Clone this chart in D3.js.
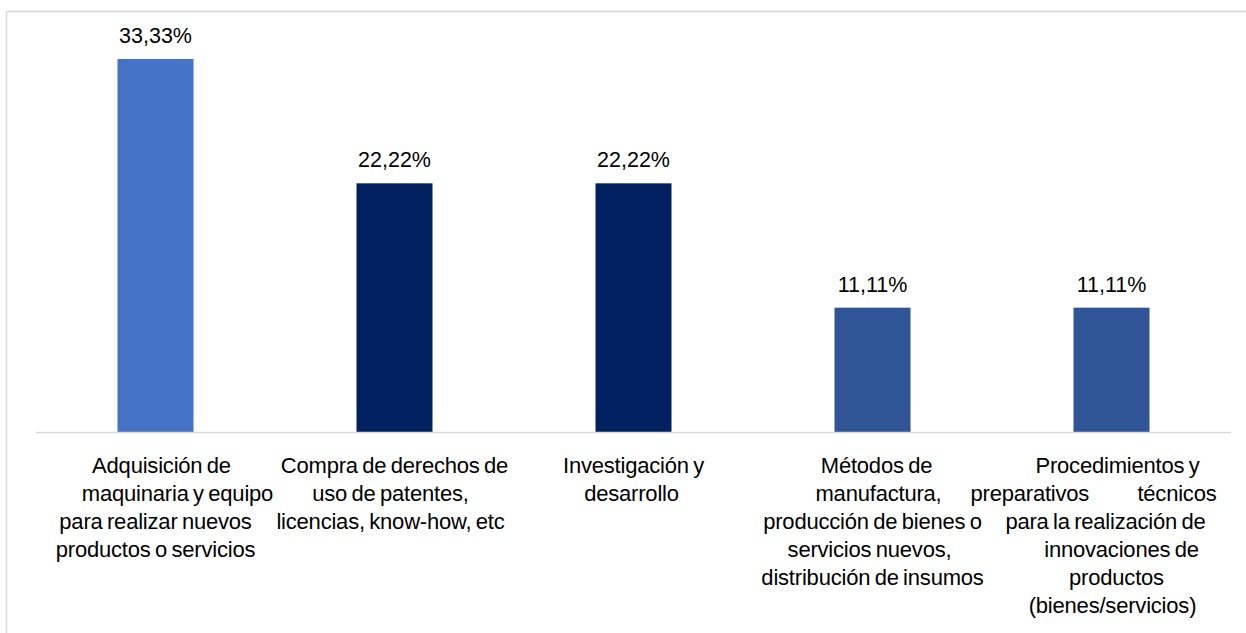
<!DOCTYPE html>
<html>
<head>
<meta charset="utf-8">
<script src="https://cdn.jsdelivr.net/npm/d3@7"></script>
<style>
  html, body { margin: 0; padding: 0; background: #fff; }
  svg { display: block; }
  text { font-family: "Liberation Sans", Arial, sans-serif; fill: #000; }
</style>
</head>
<body>
<svg id="chart" width="1246" height="633"></svg>
<script>
// Categories, each as the lines of its wrapped axis label
const categories = [
  "Adquisición de maquinaria y equipo para realizar nuevos productos o servicios",
  "Compra de derechos de uso de patentes, licencias, know-how, etc",
  "Investigación y desarrollo",
  "Métodos de manufactura, producción de bienes o servicios nuevos, distribución de insumos",
  "Procedimientos y preparativos técnicos para la realización de innovaciones de productos (bienes/servicios)"
];
const labelLines = [
  ["Adquisición de", "maquinaria y equipo", "para realizar nuevos", "productos o servicios"],
  ["Compra de derechos de", "uso de patentes,", "licencias, know-how, etc"],
  ["Investigación y", "desarrollo"],
  ["Métodos de", "manufactura,", "producción de bienes o", "servicios nuevos,", "distribución de insumos"],
  ["Procedimientos y", "preparativos técnicos", "para la realización de", "innovaciones de", "productos", "(bienes/servicios)"]
];
const values = [33.33, 22.22, 22.22, 11.11, 11.11];
const valueLabels = ["33,33%", "22,22%", "22,22%", "11,11%", "11,11%"];
const barColors = ["#4472C4", "#002060", "#002060", "#2F5597", "#2F5597"];

// Horizontal nudges of individual label lines (text-box wrapping quirks)
const lineShift = [
  [6, 22, 0, 0],
  [0, -4, -4],
  [0, -2],
  [4, 6, 0, -3, 0],
  [6, 0, -6, 10, 5, 1]
];

const svg = d3.select("#chart");

// Chart area frame
svg.append("rect")
  .attr("x", 6.5).attr("y", 11.5)
  .attr("width", 1260).attr("height", 640)
  .attr("fill", "none")
  .attr("stroke", "#D9D9D9")
  .attr("stroke-width", 1.5);

const x = d3.scaleBand()
  .domain(categories)
  .range([36, 1231])
  .paddingInner(0.682)
  .paddingOuter(0.341);

const y = d3.scaleLinear()
  .domain([0, 35])
  .range([432, 40.3]);

// Bars
svg.append("g").selectAll("rect")
  .data(values)
  .join("rect")
  .attr("x", (d, i) => x(categories[i]))
  .attr("y", d => y(d))
  .attr("width", x.bandwidth())
  .attr("height", d => y(0) - y(d))
  .attr("fill", (d, i) => barColors[i]);

// Value labels above bars
svg.append("g").selectAll("text")
  .data(values)
  .join("text")
  .attr("x", (d, i) => x(categories[i]) + x.bandwidth() / 2)
  .attr("y", d => y(d) - 16)
  .attr("text-anchor", "middle")
  .style("font-size", "21.5px")
  .text((d, i) => valueLabels[i]);

// Category axis line
svg.append("line")
  .attr("x1", 36).attr("x2", 1231)
  .attr("y1", 432.5).attr("y2", 432.5)
  .attr("stroke", "#D9D9D9")
  .attr("stroke-width", 1.5);

// Wrapped category labels
const lab = svg.append("g")
  .style("font-size", "22px")
  .style("word-spacing", "-1.5px")
  .style("letter-spacing", "-0.2px");

labelLines.forEach((lines, i) => {
  const cx = x(categories[i]) + x.bandwidth() / 2;
  lines.forEach((ln, j) => {
    const yy = 473 + j * 28;
    if (i === 4 && j === 1) {
      // justified line: words pushed to both edges of the text box
      const words = ln.split(" ");
      lab.append("text").attr("x", cx - 141).attr("y", yy)
        .attr("text-anchor", "start").text(words[0]);
      lab.append("text").attr("x", cx + 105).attr("y", yy)
        .attr("text-anchor", "end").text(words[1]);
    } else {
      lab.append("text")
        .attr("x", cx + lineShift[i][j])
        .attr("y", yy)
        .attr("text-anchor", "middle")
        .text(ln);
    }
  });
});
</script>
</body>
</html>
